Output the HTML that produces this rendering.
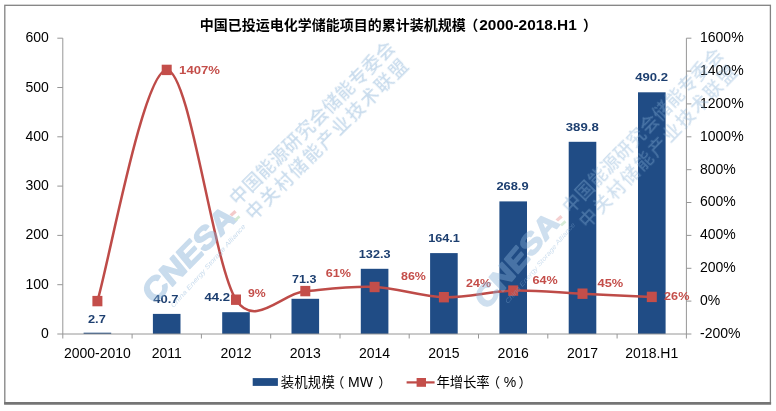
<!DOCTYPE html>
<html lang="zh"><head><meta charset="utf-8"><title>中国已投运电化学储能项目的累计装机规模</title>
<style>html,body{margin:0;padding:0;background:#fff}svg{display:block}text{font-family:"Liberation Sans","Noto Sans CJK SC",sans-serif}.ax{font-size:14px;fill:#000}.lg{font-size:13.4px;fill:#000}.lgl{font-size:14px;fill:#000}.bl{font-size:11.8px;font-weight:bold;fill:#1d3f70}.rl{font-size:11.8px;font-weight:bold;fill:#c44e4a}.tt{font-size:14px;font-weight:bold;fill:#000}</style></head><body>
<svg width="776" height="411" viewBox="0 0 776 411">
<rect x="0" y="0" width="776" height="411" fill="#fff"/>
<rect x="4.8" y="5.3" width="765.6" height="398" fill="#fff" stroke="#828282" stroke-width="1.3"/>
<line x1="4.1" y1="403.4" x2="771.1" y2="403.4" stroke="#757575" stroke-width="2.6"/>
<defs><filter id="wb" x="-5%" y="-50%" width="110%" height="200%"><feGaussianBlur stdDeviation="0.7"/></filter></defs>
<rect x="83.6" y="332.7" width="27.6" height="1.3" fill="#204c85"/>
<rect x="152.9" y="313.9" width="27.6" height="20.1" fill="#204c85"/>
<rect x="222.2" y="312.2" width="27.6" height="21.8" fill="#204c85"/>
<rect x="291.5" y="298.8" width="27.6" height="35.2" fill="#204c85"/>
<rect x="360.8" y="268.8" width="27.6" height="65.2" fill="#204c85"/>
<rect x="430.1" y="253.1" width="27.6" height="80.9" fill="#204c85"/>
<rect x="499.4" y="201.4" width="27.6" height="132.6" fill="#204c85"/>
<rect x="568.7" y="141.8" width="27.6" height="192.2" fill="#204c85"/>
<rect x="638.0" y="92.3" width="27.6" height="241.7" fill="#204c85"/>
<path d="M62.8 38.2V334.0H686.4V38.2" fill="none" stroke="#969696" stroke-width="1"/>
<line x1="57.3" y1="334.0" x2="62.8" y2="334.0" stroke="#969696"/>
<text class="ax" x="48.8" y="338.0" text-anchor="end">0</text>
<line x1="57.3" y1="284.7" x2="62.8" y2="284.7" stroke="#969696"/>
<text class="ax" x="48.8" y="288.7" text-anchor="end">100</text>
<line x1="57.3" y1="235.4" x2="62.8" y2="235.4" stroke="#969696"/>
<text class="ax" x="48.8" y="239.4" text-anchor="end">200</text>
<line x1="57.3" y1="186.1" x2="62.8" y2="186.1" stroke="#969696"/>
<text class="ax" x="48.8" y="190.1" text-anchor="end">300</text>
<line x1="57.3" y1="136.8" x2="62.8" y2="136.8" stroke="#969696"/>
<text class="ax" x="48.8" y="140.8" text-anchor="end">400</text>
<line x1="57.3" y1="87.5" x2="62.8" y2="87.5" stroke="#969696"/>
<text class="ax" x="48.8" y="91.5" text-anchor="end">500</text>
<line x1="57.3" y1="38.2" x2="62.8" y2="38.2" stroke="#969696"/>
<text class="ax" x="48.8" y="42.2" text-anchor="end">600</text>
<line x1="686.4" y1="334.0" x2="691.4" y2="334.0" stroke="#969696"/>
<text class="ax" x="700.0" y="337.9">-200%</text>
<line x1="686.4" y1="301.1" x2="691.4" y2="301.1" stroke="#969696"/>
<text class="ax" x="700.0" y="305.0">0%</text>
<line x1="686.4" y1="268.3" x2="691.4" y2="268.3" stroke="#969696"/>
<text class="ax" x="700.0" y="272.2">200%</text>
<line x1="686.4" y1="235.4" x2="691.4" y2="235.4" stroke="#969696"/>
<text class="ax" x="700.0" y="239.3">400%</text>
<line x1="686.4" y1="202.5" x2="691.4" y2="202.5" stroke="#969696"/>
<text class="ax" x="700.0" y="206.4">600%</text>
<line x1="686.4" y1="169.7" x2="691.4" y2="169.7" stroke="#969696"/>
<text class="ax" x="700.0" y="173.6">800%</text>
<line x1="686.4" y1="136.8" x2="691.4" y2="136.8" stroke="#969696"/>
<text class="ax" x="700.0" y="140.7">1000%</text>
<line x1="686.4" y1="103.9" x2="691.4" y2="103.9" stroke="#969696"/>
<text class="ax" x="700.0" y="107.8">1200%</text>
<line x1="686.4" y1="71.1" x2="691.4" y2="71.1" stroke="#969696"/>
<text class="ax" x="700.0" y="75.0">1400%</text>
<line x1="686.4" y1="38.2" x2="691.4" y2="38.2" stroke="#969696"/>
<text class="ax" x="700.0" y="42.1">1600%</text>
<line x1="62.8" y1="334.0" x2="62.8" y2="338.5" stroke="#969696"/>
<line x1="132.1" y1="334.0" x2="132.1" y2="338.5" stroke="#969696"/>
<line x1="201.4" y1="334.0" x2="201.4" y2="338.5" stroke="#969696"/>
<line x1="270.7" y1="334.0" x2="270.7" y2="338.5" stroke="#969696"/>
<line x1="340.0" y1="334.0" x2="340.0" y2="338.5" stroke="#969696"/>
<line x1="409.2" y1="334.0" x2="409.2" y2="338.5" stroke="#969696"/>
<line x1="478.5" y1="334.0" x2="478.5" y2="338.5" stroke="#969696"/>
<line x1="547.8" y1="334.0" x2="547.8" y2="338.5" stroke="#969696"/>
<line x1="617.1" y1="334.0" x2="617.1" y2="338.5" stroke="#969696"/>
<line x1="686.4" y1="334.0" x2="686.4" y2="338.5" stroke="#969696"/>
<text class="ax" x="97.4" y="358.0" text-anchor="middle">2000-2010</text>
<text class="ax" x="166.7" y="358.0" text-anchor="middle">2011</text>
<text class="ax" x="236.0" y="358.0" text-anchor="middle">2012</text>
<text class="ax" x="305.3" y="358.0" text-anchor="middle">2013</text>
<text class="ax" x="374.6" y="358.0" text-anchor="middle">2014</text>
<text class="ax" x="443.9" y="358.0" text-anchor="middle">2015</text>
<text class="ax" x="513.2" y="358.0" text-anchor="middle">2016</text>
<text class="ax" x="582.5" y="358.0" text-anchor="middle">2017</text>
<text class="ax" x="651.8" y="358.0" text-anchor="middle">2018.H1</text>
<path d="M97.4 301.1C109.0 262.6 143.6 70.2 166.7 69.9C189.8 69.7 212.9 262.8 236.0 299.7C254.6 329.2 282.2 293.2 305.3 291.1C328.4 289.0 351.5 286.0 374.6 287.0C397.7 288.0 420.8 296.6 443.9 297.2C467.0 297.8 490.1 291.2 513.2 290.6C536.3 290.0 559.4 292.7 582.5 293.7C605.6 294.8 640.2 296.3 651.8 296.9" fill="none" stroke="#be4b48" stroke-width="2.5" stroke-linejoin="round"/>
<rect x="92.4" y="295.9" width="10" height="10.4" fill="#c44e4a"/>
<rect x="161.7" y="64.7" width="10" height="10.4" fill="#c44e4a"/>
<rect x="231.0" y="294.5" width="10" height="10.4" fill="#c44e4a"/>
<rect x="300.3" y="285.9" width="10" height="10.4" fill="#c44e4a"/>
<rect x="369.6" y="281.8" width="10" height="10.4" fill="#c44e4a"/>
<rect x="438.9" y="292.0" width="10" height="10.4" fill="#c44e4a"/>
<rect x="508.2" y="285.4" width="10" height="10.4" fill="#c44e4a"/>
<rect x="577.5" y="288.5" width="10" height="10.4" fill="#c44e4a"/>
<rect x="646.8" y="291.7" width="10" height="10.4" fill="#c44e4a"/>
<text class="bl" x="88.0" y="322.6" textLength="17.8" lengthAdjust="spacingAndGlyphs">2.7</text>
<text class="bl" x="153.3" y="303.1" textLength="25.3" lengthAdjust="spacingAndGlyphs">40.7</text>
<text class="bl" x="204.5" y="301.3" textLength="25.5" lengthAdjust="spacingAndGlyphs">44.2</text>
<text class="bl" x="292.0" y="283.1" textLength="24.4" lengthAdjust="spacingAndGlyphs">71.3</text>
<text class="bl" x="358.8" y="257.8" textLength="31.7" lengthAdjust="spacingAndGlyphs">132.3</text>
<text class="bl" x="428.2" y="241.9" textLength="31.7" lengthAdjust="spacingAndGlyphs">164.1</text>
<text class="bl" x="496.4" y="190.4" textLength="32.2" lengthAdjust="spacingAndGlyphs">268.9</text>
<text class="bl" x="565.8" y="130.9" textLength="32.9" lengthAdjust="spacingAndGlyphs">389.8</text>
<text class="bl" x="635.2" y="81.2" textLength="32.8" lengthAdjust="spacingAndGlyphs">490.2</text>
<text class="rl" x="179.1" y="74.3" textLength="40.8" lengthAdjust="spacingAndGlyphs">1407%</text>
<text class="rl" x="248.0" y="296.9" textLength="17.8" lengthAdjust="spacingAndGlyphs">9%</text>
<text class="rl" x="325.7" y="276.7" textLength="25.3" lengthAdjust="spacingAndGlyphs">61%</text>
<text class="rl" x="401.0" y="280.2" textLength="24.9" lengthAdjust="spacingAndGlyphs">86%</text>
<text class="rl" x="466.1" y="286.9" textLength="24.9" lengthAdjust="spacingAndGlyphs">24%</text>
<text class="rl" x="532.5" y="284.3" textLength="25.2" lengthAdjust="spacingAndGlyphs">64%</text>
<text class="rl" x="597.5" y="287.4" textLength="25.7" lengthAdjust="spacingAndGlyphs">45%</text>
<text class="rl" x="664.1" y="300.0" textLength="25.3" lengthAdjust="spacingAndGlyphs">26%</text>
<text class="tt" x="199.8" y="30.2" textLength="266" lengthAdjust="spacing">中国已投运电化学储能项目的累计装机规模</text>
<text class="tt" x="464.3" y="30.2">（</text>
<text class="tt" x="479.3" y="30.2" textLength="97.4" lengthAdjust="spacingAndGlyphs">2000-2018.H1</text>
<text class="tt" x="583" y="30.2">）</text>
<rect x="252.7" y="378.1" width="25.2" height="7.8" fill="#204c85"/>
<text class="lg" x="280.8" y="386.7" textLength="54" lengthAdjust="spacing">装机规模</text>
<text class="lg" x="331" y="386.7">（</text>
<text class="lgl" x="348" y="386.7">MW</text>
<text class="lg" x="378.3" y="386.7">）</text>
<line x1="406.6" y1="382.4" x2="434.6" y2="382.4" stroke="#be4b48" stroke-width="2.25"/>
<rect x="416.6" y="378" width="9.4" height="8.8" fill="#c44e4a"/>
<text class="lg" x="436.6" y="386.7" textLength="53" lengthAdjust="spacing">年增长率</text>
<text class="lg" x="486.7" y="386.7">（</text>
<text class="lgl" x="503.7" y="386.7">%</text>
<text class="lg" x="518.4" y="386.7">）</text>
<g opacity="0.45" fill="#86b0d6" stroke="#86b0d6">
<g transform="translate(153.6,305.3) rotate(-45.5) skewX(-6)">
<text x="0" y="0" font-size="30.5" font-weight="bold" stroke-width="1.6" stroke-linejoin="round" textLength="120" lengthAdjust="spacingAndGlyphs">CNESA</text>
</g>
<g transform="translate(234.5,215.5)" stroke="none">
<path d="M-5 -1l5 -4.5l2.2 2.6l-4.6 4z" fill="#e58a8a"/>
<path d="M-0.5 4l4.6 -4.2l1.8 2.2l-4.4 3.8z" fill="#9ccf9c"/>
</g>
<g transform="translate(173.5,308) rotate(-48.3)">
<text x="0" y="0" font-size="6.5" font-style="italic" stroke="none" textLength="109" lengthAdjust="spacingAndGlyphs">China Energy Storage Alliance</text>
</g>
<g transform="translate(237.4,206.2) rotate(-44.7)" stroke="none" font-size="18" font-weight="500" filter="url(#wb)">
<text x="0" y="0" textLength="223" lengthAdjust="spacing">中国能源研究会储能专委会</text>
<text x="1" y="21.8" textLength="219" lengthAdjust="spacing">中关村储能产业技术联盟</text>
</g>
</g>
<g opacity="0.4" fill="#86b0d6" stroke="#86b0d6">
<g transform="translate(486.3,310.8) rotate(-49.5) skewX(-6)">
<text x="0" y="0" font-size="28.5" font-weight="bold" stroke-width="1.6" stroke-linejoin="round" textLength="114" lengthAdjust="spacingAndGlyphs">CNESA</text>
</g>
<g transform="translate(560.5,220.4)" stroke="none">
<path d="M-5 -1l5 -4.5l2.2 2.6l-4.6 4z" fill="#e58a8a"/>
<path d="M-0.5 4l4.6 -4.2l1.8 2.2l-4.4 3.8z" fill="#9ccf9c"/>
</g>
<g transform="translate(508,304) rotate(-49.5)">
<text x="0" y="0" font-size="6.5" font-style="italic" stroke="none" textLength="104" lengthAdjust="spacingAndGlyphs">China Energy Storage Alliance</text>
</g>
<g transform="translate(570.5,214.6) rotate(-45.9)" stroke="none" font-size="18" font-weight="500" filter="url(#wb)">
<text x="0" y="0" textLength="221" lengthAdjust="spacing">中国能源研究会储能专委会</text>
<text x="1" y="21.8" textLength="217" lengthAdjust="spacing">中关村储能产业技术联盟</text>
</g>
</g>
</svg></body></html>
